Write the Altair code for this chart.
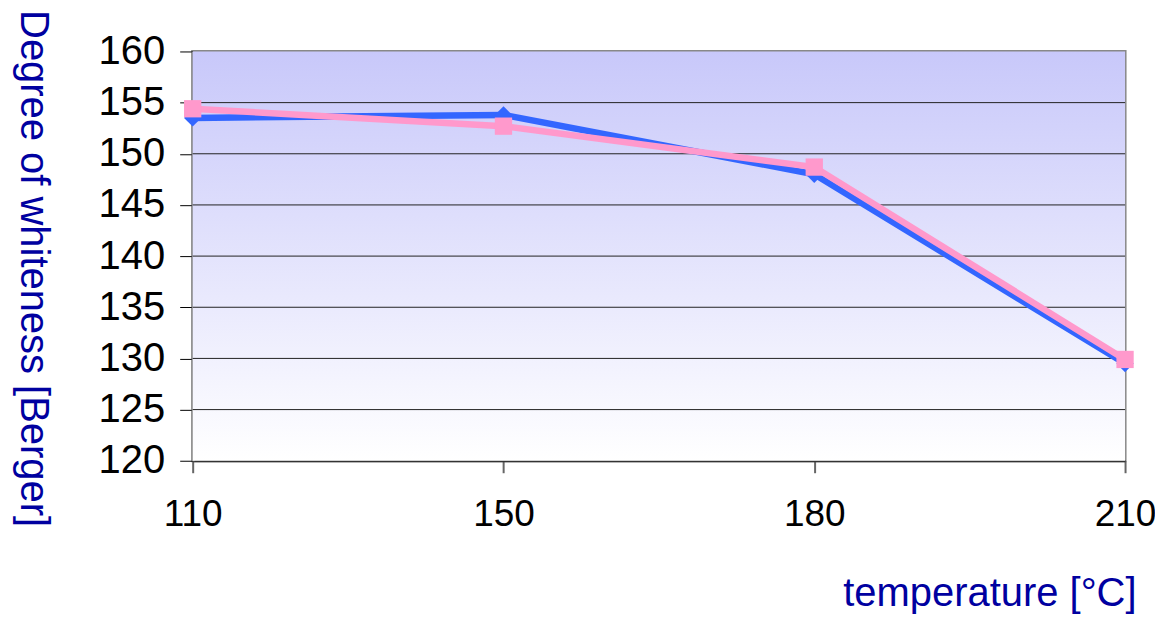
import altair as alt
import pandas as pd

temps = ["110", "150", "180", "210"]
blue_vals = [153.5, 153.8, 148.0, 129.5]
pink_vals = [154.4, 152.7, 148.7, 129.9]
y_ticks = [120, 125, 130, 135, 140, 145, 150, 155, 160]
grid_vals = [125, 130, 135, 140, 145, 150, 155]

W, H = 934, 410
FONT = "Liberation Sans"
FS = 40

df_blue = pd.DataFrame({"temp": temps, "value": blue_vals})
df_pink = pd.DataFrame({"temp": temps, "value": pink_vals})
df_grid = pd.DataFrame({"value": grid_vals})

x_enc = alt.X(
    "temp:O",
    sort=temps,
    scale=alt.Scale(type="point", padding=0),
    axis=alt.Axis(
        title="temperature [°C]",
        labelAngle=0,
        labelFont=FONT, labelFontSize=37, labelColor="black",
        labelPadding=24,
        tickSize=12, tickColor="#666666", tickWidth=2,
        domainColor="#333333", domainWidth=2,
        titleFont=FONT, titleFontSize=FS, titleFontWeight="normal",
        titleColor="#0000a0",
        titleAnchor="end", titleAlign="right", titleBaseline="alphabetic",
        titleX=945, titleY=145,
        grid=False,
    ),
)
y_scale = alt.Scale(domain=[120, 160], nice=False, zero=False)
y_enc = alt.Y(
    "value:Q",
    scale=y_scale,
    axis=alt.Axis(
        values=y_ticks,
        title="Degree of whiteness [Berger]",
        labelFont=FONT, labelFontSize=FS, labelColor="black",
        labelPadding=15,
        tickSize=13, tickColor="black", tickWidth=1,
        domainColor="#808080", domainWidth=3,
        titleFont=FONT, titleFontSize=FS, titleFontWeight="normal",
        titleColor="#0000a0",
        titleAngle=90, titleAlign="center", titleBaseline="middle",
        titleX=-160, titleY=217,
        grid=False,
    ),
)

bg = alt.Chart(pd.DataFrame({"a": [0]})).mark_rect(
    fill=alt.LinearGradient(
        gradient="linear",
        stops=[
            alt.GradientStop(color="#c8c8fa", offset=0),
            alt.GradientStop(color="#ffffff", offset=1),
        ],
        x1=0, x2=0, y1=0, y2=1,
    )
).encode(x=alt.value(0), x2=alt.value(W), y=alt.value(0), y2=alt.value(H))

grid = alt.Chart(df_grid).mark_rule(color="#222222", strokeWidth=1).encode(
    y=alt.Y("value:Q", scale=y_scale)
)

blue = alt.Chart(df_blue).mark_line(
    color="#3366ff", strokeWidth=6.5,
    point=alt.OverlayMarkDef(shape="diamond", size=300, color="#3366ff", filled=True, opacity=1),
).encode(x=x_enc, y=y_enc)

pink = alt.Chart(df_pink).mark_line(
    color="#ff99cc", strokeWidth=6.5,
    point=alt.OverlayMarkDef(shape="square", size=300, color="#ff99cc", filled=True, opacity=1),
).encode(x=x_enc, y=y_enc)

chart = alt.layer(bg, grid, blue, pink).properties(
    width=W, height=H,
    autosize=alt.AutoSizeParams(type="none"),
    padding={"left": 185, "top": 43, "right": 30, "bottom": 155},
).configure_view(stroke="#888888", strokeWidth=3)

chart.save("out.html", embed_options={"renderer": "svg", "actions": False})
